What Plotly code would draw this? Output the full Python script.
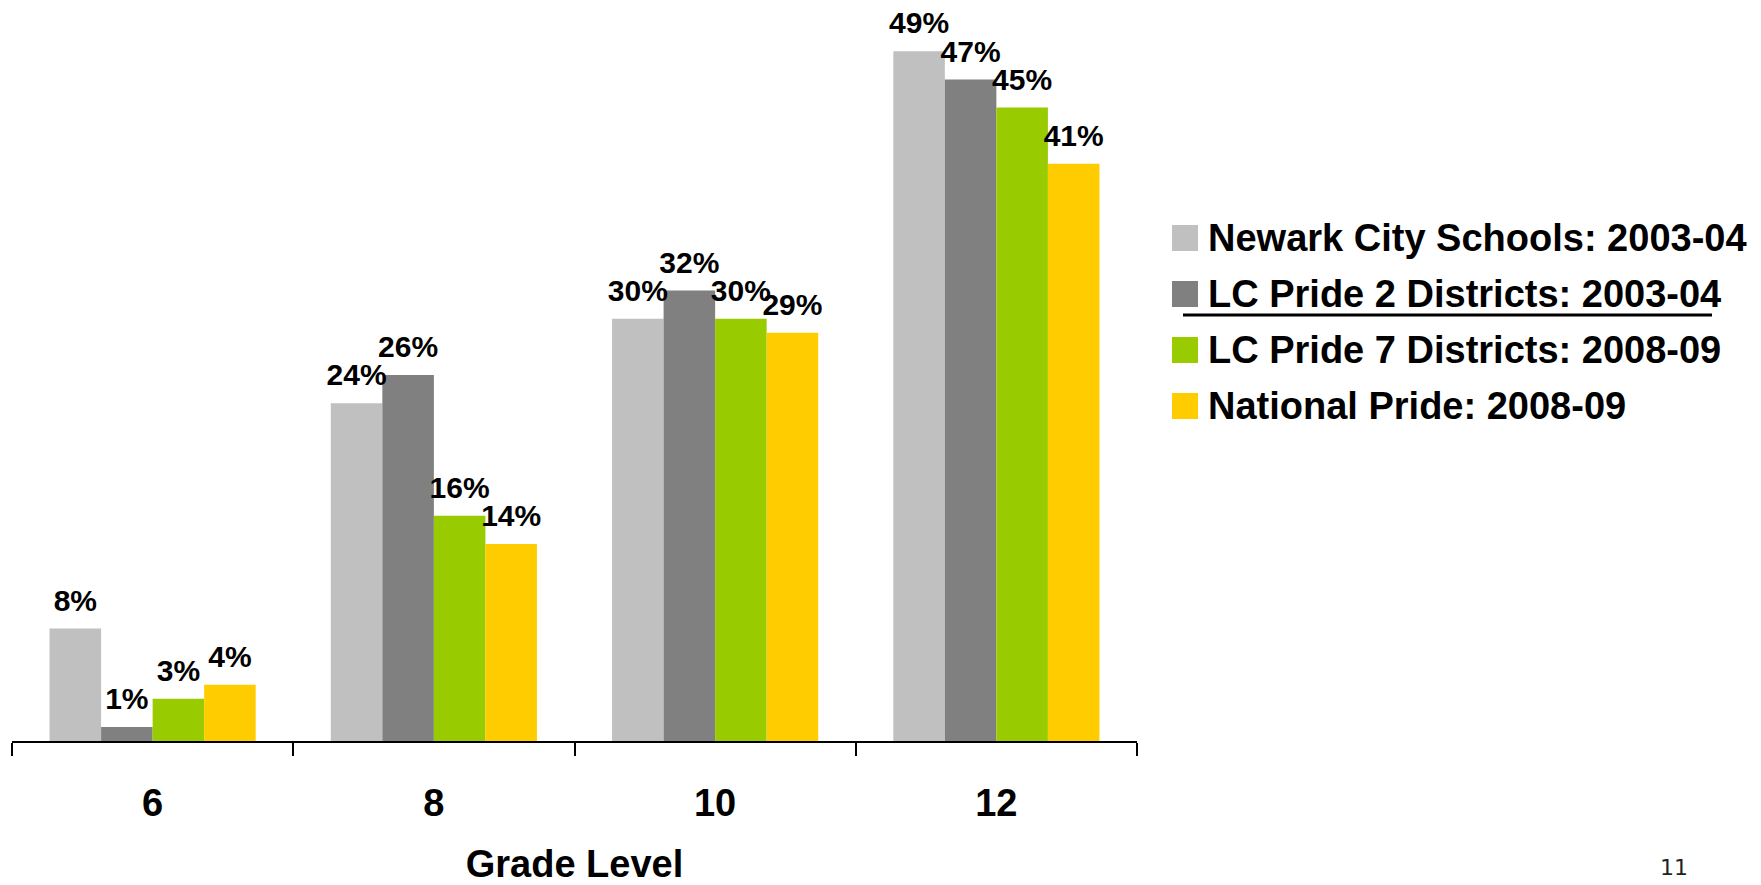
import plotly.graph_objects as go

# data
grades = ["6", "8", "10", "12"]
series_names = [
    "Newark City Schools: 2003-04",
    "LC Pride 2 Districts: 2003-04",
    "LC Pride 7 Districts: 2008-09",
    "National Pride: 2008-09",
]
newark = [8, 24, 30, 49]
lc_pride_2 = [1, 26, 32, 47]
lc_pride_7 = [3, 16, 30, 45]
national = [4, 14, 29, 41]
page_number = "11"

colors = ["#c0c0c0", "#808080", "#99cc00", "#ffcc00"]
values = [newark, lc_pride_2, lc_pride_7, national]

W, H = 1761, 885
M = dict(l=12, r=624, t=9, b=144)
FONT = "Liberation Sans, Arial, sans-serif"
GAP = 0.267


def px_x(x):
    return (x - M["l"]) / (W - M["l"] - M["r"])


def px_y(y):
    return (H - M["b"] - y) / (H - M["t"] - M["b"])


fig = go.Figure()
for i, (name, vals, c) in enumerate(zip(series_names, values, colors)):
    fig.add_trace(go.Bar(
        x=grades, y=vals, name=name, offsetgroup=str(i),
        marker=dict(color=c, line=dict(width=0)),
        showlegend=False,
    ))
# value labels, grouped like the bars, lifted a little above each bar
for i, vals in enumerate(values):
    fig.add_trace(go.Scatter(
        x=grades, y=vals, offsetgroup=str(i),
        mode="markers+text",
        marker=dict(size=15, opacity=0),
        text=[f"{v}%" for v in vals],
        textposition="top center",
        textfont=dict(family=FONT, size=30, color="black", weight="bold"),
        cliponaxis=False, showlegend=False, hoverinfo="skip",
    ))

# hand-made legend with large swatches
annotations = []
shapes = []
row_y = [238, 294, 350, 406]
for name, c, yy in zip(series_names, colors, row_y):
    shapes.append(dict(
        type="rect", xref="paper", yref="paper",
        x0=px_x(1172), x1=px_x(1198), y0=px_y(yy + 13), y1=px_y(yy - 13),
        fillcolor=c, line=dict(width=0),
    ))
    annotations.append(dict(
        xref="paper", yref="paper", x=px_x(1206), y=px_y(yy),
        xanchor="left", yanchor="middle", showarrow=False, text=name,
        font=dict(family=FONT, size=38, color="black", weight="bold"),
    ))
# underline below the second legend entry
shapes.append(dict(
    type="line", xref="paper", yref="paper",
    x0=px_x(1183), x1=px_x(1712), y0=px_y(315), y1=px_y(315),
    line=dict(color="black", width=3),
))
annotations.append(dict(
    xref="paper", yref="paper", x=px_x(1674), y=px_y(868),
    xanchor="center", yanchor="middle", showarrow=False, text=page_number,
    font=dict(family="DejaVu Sans, sans-serif", size=22, color="#222222"),
))

fig.update_xaxes(
    type="category", automargin=False,
    showline=True, linecolor="black", linewidth=1.5,
    ticks="outside", tickson="boundaries", ticklen=13, tickwidth=1.5,
    tickcolor="black",
    tickfont=dict(family=FONT, size=38, color="black", weight="bold"),
    ticklabelstandoff=28,
    title=dict(text="Grade Level", standoff=40,
               font=dict(family=FONT, size=38, color="black", weight="bold")),
    showgrid=False,
)
fig.update_yaxes(
    range=[0, 52], visible=False, showgrid=False, zeroline=False,
    automargin=False,
)

fig.update_layout(
    width=W, height=H,
    margin=M,
    barmode="group", bargap=GAP, bargroupgap=0,
    scattermode="group", scattergap=GAP,
    paper_bgcolor="white", plot_bgcolor="white",
    showlegend=False,
    annotations=annotations,
    shapes=shapes,
)

# drop the default 8px body margin so the figure fills the window
fig.write_html(
    "out.html",
    config={"displayModeBar": False},
    post_script="document.body.style.margin='0';",
)
